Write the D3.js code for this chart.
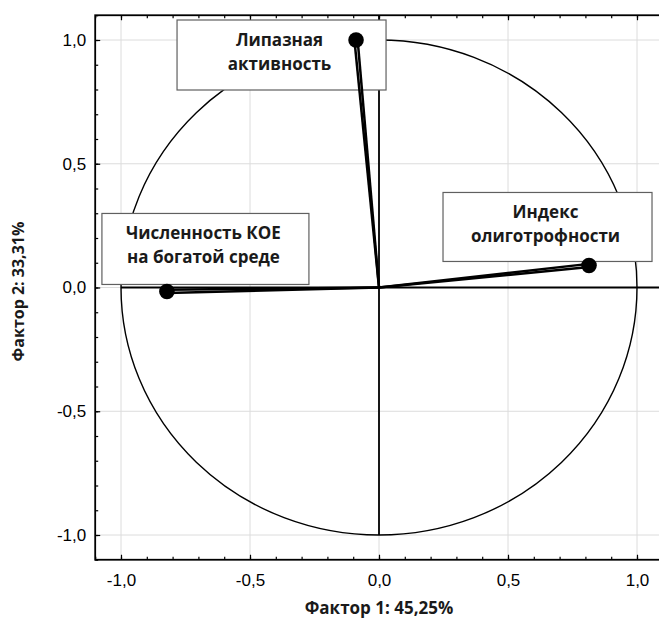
<!DOCTYPE html>
<html>
<head>
<meta charset="utf-8">
<script src="https://cdn.jsdelivr.net/npm/d3@7"></script>
<style>
  html, body { margin: 0; padding: 0; background: #fff; }
  svg { display: block; }
</style>
</head>
<body>
<div id="container"></div>
<script>
// factor loadings
const variables = ['Липазная активность', 'Индекс олиготрофности', 'Численность КОЕ на богатой среде']
const labelLines = [['Липазная', 'активность'], ['Индекс', 'олиготрофности'], ['Численность КОЕ', 'на богатой среде']]
const factor1 = [-0.089, 0.814, -0.822]
const factor2 = [1.0, 0.089, -0.016]

const majorTicks = [-1.0, -0.5, 0.0, 0.5, 1.0]
const minorTicks = d3.range(-11, 12).map(i => i / 10)
const xTitle = 'Фактор 1: 45,25%'
const yTitle = 'Фактор 2: 33,31%'

// label boxes, placed around each point: [dx, dy, w, h] in px
const boxLayout = [[-179, -20, 209, 70], [-146, -73, 209, 69], [-65, -78, 207, 71]]

const width = 659
const height = 619
const fmt = d => d.toFixed(1).replace('.', ',')
const boldFont = '"Open Sans", Lato, sans-serif'

const x = d3.scaleLinear().domain([-1.1, 1.1]).range([95.2, 662.8])
const y = d3.scaleLinear().domain([-1.1, 1.1]).range([559.75, 15.25])

const svg = d3.select('#container').append('svg')
  .attr('width', width)
  .attr('height', height)

// grid
svg.append('g').selectAll('line.gx')
  .data(majorTicks).enter().append('line')
  .attr('x1', d => x(d)).attr('x2', d => x(d))
  .attr('y1', y(1.1)).attr('y2', y(-1.1))
  .style('stroke', '#dcdcdc').style('stroke-width', 1)
svg.append('g').selectAll('line.gy')
  .data(majorTicks).enter().append('line')
  .attr('y1', d => y(d)).attr('y2', d => y(d))
  .attr('x1', x(-1.1)).attr('x2', x(1.1))
  .style('stroke', '#dcdcdc').style('stroke-width', 1)

// unit circle
svg.append('ellipse')
  .attr('cx', x(0)).attr('cy', y(0))
  .attr('rx', x(1) - x(0)).attr('ry', y(0) - y(1))
  .style('fill', 'none').style('stroke', '#000').style('stroke-width', 1.4)

// zero lines
svg.append('line')
  .attr('x1', x(-1)).attr('x2', x(1.1))
  .attr('y1', y(0)).attr('y2', y(0))
  .style('stroke', '#000').style('stroke-width', 1.8)
svg.append('line')
  .attr('x1', x(0)).attr('x2', x(0))
  .attr('y1', y(-1)).attr('y2', y(1.1))
  .style('stroke', '#000').style('stroke-width', 1.8)

// axes with inner ticks
function styleAxis(g) {
  g.selectAll('.domain').remove()
  g.selectAll('line').style('stroke', '#000').style('stroke-width', 1.2)
  g.selectAll('text')
    .style('font-family', '"Liberation Sans", Arial, sans-serif')
    .style('font-size', '17px')
    .style('fill', '#000')
}

const axisB = svg.append('g').attr('transform', `translate(0,${y(-1.1)})`)
axisB.call(d3.axisBottom(x).tickValues(minorTicks).tickSize(-3).tickFormat(''))
axisB.append('g').call(d3.axisBottom(x).tickValues(majorTicks).tickSize(-5).tickPadding(14).tickFormat(fmt))
styleAxis(axisB)

const axisT = svg.append('g').attr('transform', `translate(0,${y(1.1)})`)
axisT.call(d3.axisTop(x).tickValues(minorTicks).tickSize(-3).tickFormat(''))
axisT.append('g').call(d3.axisTop(x).tickValues(majorTicks).tickSize(-5).tickFormat(''))
styleAxis(axisT)

const axisL = svg.append('g').attr('transform', `translate(${x(-1.1)},0)`)
axisL.call(d3.axisLeft(y).tickValues(minorTicks).tickSize(-3).tickFormat(''))
axisL.append('g').call(d3.axisLeft(y).tickValues(majorTicks).tickSize(-5).tickPadding(9).tickFormat(fmt))
styleAxis(axisL)

// frame
svg.append('rect')
  .attr('x', x(-1.1)).attr('y', y(1.1))
  .attr('width', x(1.1) - x(-1.1)).attr('height', y(-1.1) - y(1.1))
  .style('fill', 'none').style('stroke', '#000').style('stroke-width', 1.8)

// label boxes
const labels = svg.append('g').selectAll('g')
  .data(variables).enter().append('g')
  .attr('transform', (d, i) => `translate(${x(factor1[i]) + boxLayout[i][0]},${y(factor2[i]) + boxLayout[i][1]})`)
labels.append('rect')
  .attr('width', (d, i) => boxLayout[i][2])
  .attr('height', (d, i) => boxLayout[i][3])
  .style('fill', '#fff').style('stroke', '#606060').style('stroke-width', 1.2)
labels.each(function (d, i) {
  const g = d3.select(this)
  const w = boxLayout[i][2]
  labelLines[i].forEach((t, j) => {
    g.append('text')
      .attr('x', w / 2 - 2)
      .attr('y', 26 + j * 24)
      .attr('text-anchor', 'middle')
      .style('font-family', boldFont)
      .style('font-weight', 'bold')
      .style('font-size', '17px')
      .style('fill', '#1a1a1a')
      .text(t)
  })
})

// loading vectors, drawn as a narrow double stroke
const vectors = svg.append('g')
variables.forEach((v, i) => {
  const x0 = x(0), y0 = y(0)
  const x1 = x(factor1[i]), y1 = y(factor2[i])
  const len = Math.hypot(x1 - x0, y1 - y0)
  const nx = -(y1 - y0) / len, ny = (x1 - x0) / len
  ;[-1.6, 1.6].forEach(o => {
    vectors.append('line')
      .attr('x1', x0).attr('y1', y0)
      .attr('x2', x1 + nx * o).attr('y2', y1 + ny * o)
      .style('stroke', '#000').style('stroke-width', 2.5)
  })
})

svg.append('g').selectAll('circle')
  .data(variables).enter().append('circle')
  .attr('cx', (d, i) => x(factor1[i]))
  .attr('cy', (d, i) => y(factor2[i]))
  .attr('r', 7.8)
  .style('fill', '#000')

// axis titles
svg.append('text')
  .attr('x', x(0)).attr('y', 614)
  .attr('text-anchor', 'middle')
  .style('font-family', boldFont)
  .style('font-weight', 'bold').style('font-size', '17px')
  .style('fill', '#1a1a1a')
  .text(xTitle)
svg.append('text')
  .attr('transform', `translate(24,${y(0) + 4}) rotate(-90)`)
  .attr('text-anchor', 'middle')
  .style('font-family', boldFont)
  .style('font-weight', 'bold').style('font-size', '16px')
  .style('fill', '#1a1a1a')
  .text(yTitle)
</script>
</body>
</html>
